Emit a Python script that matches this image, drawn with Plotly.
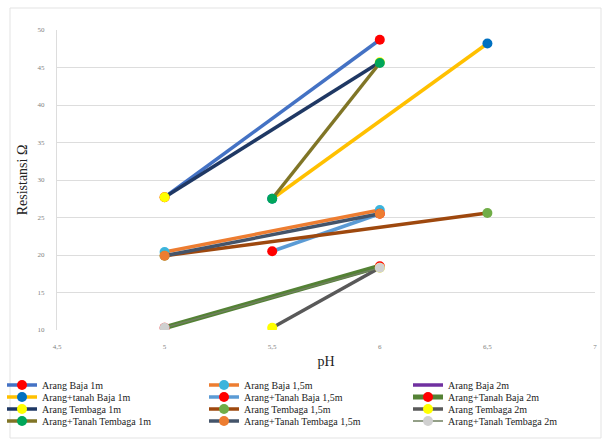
import plotly.graph_objects as go

# Resistance (ohm) measured against soil pH for each grounding treatment
series_names = [
    "Arang Baja 1m", "Arang Baja 1,5m", "Arang Baja 2m",
    "Arang+tanah Baja 1m", "Arang+Tanah Baja 1,5m", "Arang+Tanah Baja 2m",
    "Arang Tembaga 1m", "Arang Tembaga 1,5m", "Arang Tembaga 2m",
    "Arang+Tanah Tembaga 1m", "Arang+Tanah Tembaga 1,5m", "Arang+Tanah Tembaga 2m",
]
ph_values = [
    [5, 6], [5, 6], [None],
    [5.5, 6.5], [5.5, 6], [5, 6],
    [5, 6], [5, 6.5], [5.5, 6],
    [5.5, 6], [5, 6], [5, 6],
]
resistance_values = [
    [27.7, 48.7], [20.4, 26.0], [None],
    [27.5, 48.2], [20.5, 25.5], [10.3, 18.5],
    [27.7, 45.7], [19.9, 25.6], [10.3, 18.3],
    [27.5, 45.6], [19.9, 25.5], [10.3, 18.3],
]
line_colors = [
    "#4472C4", "#ED7D31", "#7030A0",
    "#FFC000", "#5B9BD5", "#548235",
    "#1F3864", "#9E480E", "#595959",
    "#807526", "#44546A", "#6F7F5F",
]
marker_colors = [
    "#FF0000", "#3CB4DC", "#7030A0",
    "#0070C0", "#FF0000", "#FF0000",
    "#FFFF00", "#70AD47", "#FFFF00",
    "#00A65A", "#ED7D31", "#D0D0D0",
]
line_widths = [3.5, 3.5, 3.5, 3.5, 3.5, 5, 3.5, 3.5, 3.5, 3.5, 3.5, 1.5]
x_ticks = [4.5, 5, 5.5, 6, 6.5, 7]
y_ticks = [10, 15, 20, 25, 30, 35, 40, 45, 50]

W, H = 607, 442
L, R, T, B = 57, 12, 30, 112
pw, ph = W - L - R, H - T - B


def px_x(x):
    return (x - L) / pw


def px_y(y):
    return (H - B - y) / ph


serif = "Liberation Serif, Times New Roman, serif"

# legend grid below the chart: 3 columns x 4 rows, one legend box per entry
legend_cols_px = [2, 204, 408]
legend_rows_px = [385, 397, 409, 421]
legend_ids = ["legend" if i == 0 else f"legend{i + 1}" for i in range(len(series_names))]

fig = go.Figure()
for i, (name, xs, ys, lc, mc, lw) in enumerate(zip(series_names, ph_values, resistance_values,
                                                   line_colors, marker_colors, line_widths)):
    fig.add_trace(go.Scatter(
        x=xs, y=ys, name=name,
        mode="lines" if xs == [None] else "lines+markers",
        line=dict(color=lc, width=lw),
        marker=dict(color=mc, size=10, line=dict(width=0)),
        legend=legend_ids[i],
    ))

fig.add_shape(type="rect", xref="paper", yref="paper",
              x0=px_x(10), x1=px_x(601), y0=px_y(438), y1=px_y(8),
              line=dict(color="#E3E3E3", width=1), layer="below")

legend_style = dict(
    orientation="v", xanchor="left", yanchor="middle",
    font=dict(size=10, family=serif, color="#222222"),
    itemwidth=30, bgcolor="rgba(0,0,0,0)", borderwidth=0,
)
legends = {}
for i, lid in enumerate(legend_ids):
    legends[lid] = dict(legend_style,
                        x=px_x(legend_cols_px[i % 3]),
                        y=px_y(legend_rows_px[i // 3]))

fig.update_layout(
    width=W, height=H,
    margin=dict(l=L, r=R, t=T, b=B, autoexpand=False),
    paper_bgcolor="white", plot_bgcolor="white",
    separators=", ",
    font=dict(family=serif, color="#222222"),
    xaxis=dict(
        range=[4.5, 7], tickvals=x_ticks, showgrid=False, zeroline=False,
        showline=False, ticks="", ticklabelstandoff=11,
        tickfont=dict(size=7, color="#7F7F7F"),
        title=dict(text="pH", font=dict(size=14, family=serif), standoff=6),
    ),
    yaxis=dict(
        range=[10, 50], tickvals=y_ticks, showgrid=True, gridcolor="#DDDDDD",
        gridwidth=1, zeroline=False, showline=True, linecolor="#DDDDDD",
        ticks="", ticklabelstandoff=10, tickfont=dict(size=7, color="#7F7F7F"),
        title=dict(text="Resistansi Ω", font=dict(size=14, family=serif), standoff=6),
    ),
    showlegend=True,
    **legends,
)

fig.write_html("out.html")
